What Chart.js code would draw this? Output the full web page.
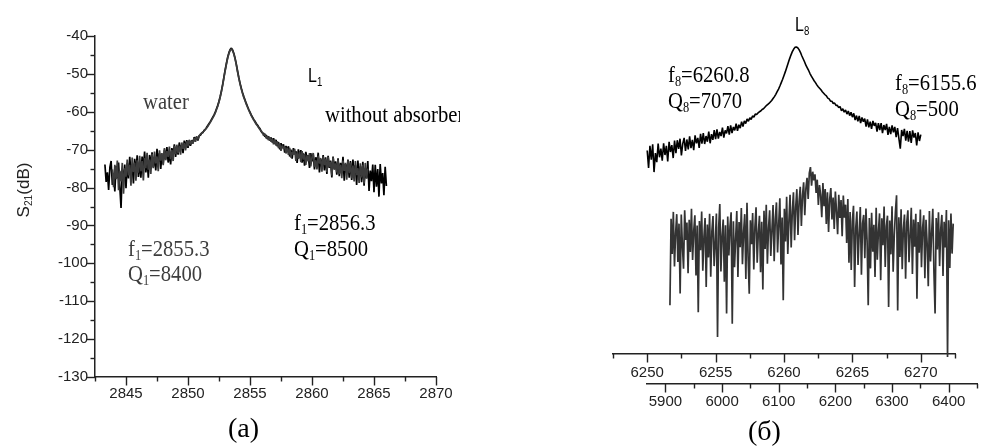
<!DOCTYPE html>
<html>
<head>
<meta charset="utf-8">
<title>S21 resonance curves</title>
<script src="https://cdn.jsdelivr.net/npm/chart.js@4.4.0/dist/chart.umd.min.js"></script>
<style>
  body { margin: 0; background: #fff; }
  #wrap { position: relative; width: 986px; height: 448px; overflow: hidden; }
  canvas { position: absolute; left: 0; top: 0; }
  .txt { position: absolute; white-space: nowrap; line-height: 1; transform-origin: 0 0; }
  .serif { font-family: "Liberation Serif", "Times New Roman", serif; font-size: 24px; transform: scaleX(0.86); }
  .sans { font-family: "Liberation Sans", Arial, sans-serif; font-size: 20px; transform: scaleX(0.8); }
  .cap { font-family: "Liberation Serif", "Times New Roman", serif; font-size: 28px; }
  .grey { color: #3d3d3d; }
  sub { font-size: 0.6em; vertical-align: -0.3em; line-height: 0; }
  #ytitle { position: absolute; left: -26px; top: 181px; width: 100px; height: 18px; line-height: 18px;
            text-align: center; font-family: "Liberation Sans", Arial, sans-serif; font-size: 17px; color: #222;
            transform: rotate(-90deg); }
  #clip { position: absolute; left: 325px; top: 100px; width: 135px; height: 30px; overflow: hidden; }
</style>
</head>
<body>
<div id="wrap">
  <canvas id="chartA" width="986" height="448"></canvas>
  <canvas id="chartB1" width="986" height="448"></canvas>
  <canvas id="chartB2" width="986" height="448"></canvas>

  <div id="ytitle">S<sub>21</sub>(dB)</div>
  <div class="txt serif grey" style="left:143px;top:89px">water</div>
  <div class="txt sans" style="left:308px;top:65px">L<sub>1</sub></div>
  <div id="clip"><div class="txt serif" style="left:0;top:2px">without absorber</div></div>
  <div class="txt serif" style="left:294px;top:210px">f<sub>1</sub>=2856.3</div>
  <div class="txt serif" style="left:294px;top:236px">Q<sub>1</sub>=8500</div>
  <div class="txt serif grey" style="left:128px;top:236px">f<sub>1</sub>=2855.3</div>
  <div class="txt serif grey" style="left:128px;top:261px">Q<sub>1</sub>=8400</div>

  <div class="txt sans" style="left:795px;top:14px">L<sub>8</sub></div>
  <div class="txt serif" style="left:668px;top:62px">f<sub>8</sub>=6260.8</div>
  <div class="txt serif" style="left:668px;top:88px">Q<sub>8</sub>=7070</div>
  <div class="txt serif" style="left:895px;top:70px">f<sub>8</sub>=6155.6</div>
  <div class="txt serif" style="left:895px;top:96px">Q<sub>8</sub>=500</div>

  <div class="txt cap" style="left:228px;top:414px">(a)</div>
  <div class="txt cap" style="left:748px;top:417px">(б)</div>
</div>

<script>
// L1 mode, 0.1 MHz per sweep point
const sweepStartNoAbs = 2843.3;
const sweepStartWater = 2843.9;
const sweepStepA = 0.1;

const dbNoAbsorber = [
  -73.9, -78.5, -76.0, -80.6, -74.7, -73.0, -79.3, -76.4, -81.0, -74.3,
  -77.6, -73.4, -79.7, -85.4, -75.1, -78.1, -73.9, -80.2,
  -73.5, -77.6, -71.9, -75.9, -73.9, -78.9, -72.4, -76.3, -71.5, -77.2,
  -73.7, -77.4, -71.8, -74.9, -70.5, -76.0, -72.5, -77.4, -71.4, -74.0,
  -70.7, -74.6, -72.0, -75.5, -69.8, -73.3, -70.9, -75.1, -71.4, -73.7,
  -70.0, -72.6, -69.3, -73.4, -71.0, -73.9, -69.6, -71.4, -68.6, -71.9,
  -69.1, -71.3, -68.1, -70.0, -68.8, -70.9, -67.6, -69.6, -67.5, -69.5,
  -67.6, -69.0, -67.5, -68.3, -66.7, -67.5, -66.5, -67.6,
  -66.3, -66.2, -65.6, -65.5, -64.9, -64.7, -64.1, -63.6, -63.1, -62.6, -62.0,
  -61.4, -60.8, -60.1, -59.2, -58.3, -57.2, -55.9, -54.4, -52.7, -50.8,
  -48.9, -47.2, -45.6, -44.4, -43.6, -43.2, -43.7, -44.6, -45.9, -47.5,
  -49.3, -51.0, -52.5, -53.8, -55.0, -56.0, -56.9, -57.8, -58.6, -59.4,
  -60.1, -60.8, -61.4, -62.0, -62.5, -63.1, -63.5, -64.0, -64.4, -65.2,
  -65.6,
  -65.7, -66.6, -66.1, -67.2, -66.5, -67.6, -66.8, -68.1, -67.0, -68.5,
  -67.4, -69.1, -68.0, -69.9, -68.3, -69.4, -68.6, -70.8, -69.0, -70.3,
  -69.1, -71.8, -70.0, -72.4, -69.6, -71.2, -70.4, -73.5, -69.9, -72.0,
  -70.1, -73.4, -71.0, -74.2, -70.6, -72.3, -71.5, -74.8, -70.9, -73.1,
  -71.3, -75.2, -72.0, -73.9, -70.8, -76.0, -72.5, -74.6, -71.4, -75.5,
  -72.0, -76.4, -71.6, -74.8, -72.9, -77.3, -71.8, -75.0, -73.1, -76.6,
  -72.3, -77.0, -73.5, -75.8, -71.9, -78.2, -73.8, -76.1, -72.6, -77.4,
  -73.0, -78.0, -72.6, -76.5, -74.1, -79.3, -72.9, -77.2, -74.4, -78.6,
  -73.2, -79.5, -74.8, -77.6, -73.0, -80.9, -75.5, -78.3, -73.9, -81.2,
  -74.0, -79.8, -75.1, -82.4, -73.8, -78.9, -76.2, -82.0, -74.5, -79.6
];

const dbWater = [
  -75.2, -79.9, -74.0, -77.8, -72.9, -80.7, -75.6, -78.4, -73.5, -81.6,
  -74.9, -77.1,
  -72.6, -76.8, -74.0, -79.5, -72.1, -75.9, -73.4, -78.2, -72.8, -76.1,
  -71.6, -75.7, -73.0, -78.1, -72.2, -74.9, -70.8, -75.3, -72.6, -76.4,
  -71.1, -74.9, -70.5, -73.6, -71.8, -75.7, -70.2, -72.9, -70.9, -74.1,
  -69.6, -72.8, -70.4, -71.9, -69.2, -72.5, -70.1, -73.0, -69.0, -71.2,
  -68.7, -70.9, -69.0, -71.3, -68.1, -69.8, -68.3, -70.2, -67.8, -69.1,
  -67.4, -68.6, -67.6, -68.4, -66.9, -67.9, -66.6, -67.3,
  -66.4, -65.9, -65.7, -65.3, -65.1, -64.6, -64.3, -63.8, -63.3, -62.8, -62.2,
  -61.6, -61.0, -60.3, -59.4, -58.5, -57.4, -56.1, -54.6, -52.9, -51.0,
  -49.1, -47.4, -45.8, -44.6, -43.8, -43.4, -43.9, -44.8, -46.1, -47.7,
  -49.5, -51.2, -52.7, -54.0, -55.2, -56.2, -57.1, -58.0, -58.8, -59.6,
  -60.3, -61.0, -61.6, -62.2, -62.7, -63.3, -63.7, -64.2, -64.7, -65.0,
  -65.5,
  -66.3, -65.8, -67.0, -66.4, -67.5, -66.7, -67.9, -67.1, -68.6, -67.4,
  -68.9, -67.8, -69.6, -68.4, -70.3, -68.9, -69.7, -69.2, -71.0, -69.5,
  -71.4, -69.5, -72.1, -70.6, -71.3, -69.8, -73.0, -70.9, -72.4, -70.6,
  -73.3, -70.4, -72.6, -71.2, -74.0, -71.5, -73.1, -70.9, -74.4, -72.0,
  -70.9, -74.5, -72.8, -75.2, -71.6, -73.7, -72.2, -75.8, -71.8, -74.1,
  -72.4, -75.9, -71.9, -74.6, -73.2, -76.8, -72.0, -75.3, -73.6, -76.0,
  -72.6, -76.4, -74.0, -77.5, -72.9, -75.6, -73.5, -77.9, -72.8, -76.2,
  -73.4, -77.6, -74.2, -78.4, -73.0, -76.7, -74.9, -78.8, -73.6, -77.3,
  -74.0, -78.9, -73.5, -77.6, -75.0
];

// L8 mode, high-Q trace (upper frequency axis)
const sweepStartHighQ = 6250.0;
const sweepStepHighQ = 0.1;
const dbHighQ = [
  -70.2, -74.8, -69.0, -72.6, -68.6, -75.9, -70.9, -73.3, -68.4, -72.0, -69.7,
  -72.9, -68.3, -71.4, -69.0, -73.1, -67.9, -70.6, -68.8, -72.2, -67.6,
  -70.9, -67.5, -69.8, -67.1, -71.5, -68.4, -66.9, -70.3, -67.3, -69.9,
  -66.5, -69.6, -67.4, -70.1, -66.2, -68.3, -66.9, -69.5, -65.8, -68.4,
  -65.6, -68.5, -66.4, -67.9, -65.2, -68.3, -65.9, -67.4, -64.8, -67.2,
  -64.6, -67.1, -65.3, -66.4, -64.2, -66.8, -64.9, -65.7, -63.8, -66.0,
  -63.6, -65.6, -64.0, -64.9, -63.1, -65.0, -63.4, -64.3, -62.6, -63.9,
  -62.4, -63.1, -61.9, -62.5, -61.6, -62.0, -61.1, -61.4, -60.6, -60.7,
  -60.3, -60.0, -59.8, -59.4, -59.2, -58.8, -58.4, -58.1, -57.8, -57.4,
  -57.0, -56.5, -56.0, -55.4, -54.7, -54.0, -53.2, -52.3, -51.4, -50.4,
  -49.4, -48.3, -47.2, -46.1, -45.1, -44.2, -43.5, -43.0, -42.9, -43.1,
  -43.6, -44.3, -45.2, -46.0, -46.8, -47.7, -48.4, -49.1, -49.9, -50.6,
  -51.2, -51.8, -52.3, -52.9, -53.4, -53.8, -54.2, -54.7, -55.1, -55.5,
  -55.8, -56.4, -56.6, -57.2, -57.2, -57.8, -57.7, -58.3, -58.3, -58.9,
  -58.6, -59.7, -59.2, -60.1, -59.5, -60.6, -59.8, -61.0, -60.1, -61.4,
  -60.4, -62.2, -61.0, -62.5, -61.1, -63.0, -61.5, -62.6, -61.8, -63.9,
  -62.0, -64.1, -62.6, -64.5, -62.4, -63.7, -62.9, -65.2, -63.0, -64.8,
  -63.0, -65.6, -63.5, -64.8, -63.2, -66.1, -64.0, -65.9, -63.6, -65.4,
  -64.0, -66.7, -64.3, -67.1, -69.7, -64.8, -66.4, -64.5, -67.6, -65.0,
  -67.9, -65.1, -68.2, -64.9, -66.8, -65.6, -68.9, -65.4, -67.7, -66.0
];

// L8 mode, low-Q trace (lower frequency axis)
const sweepStartLowQ = 5908;
const sweepStepLowQ = 2;
const dbLowQ = [
  -111.0, -88.2, -97.5, -86.4, -100.8, -92.1, -87.0, -99.6, -89.5, -107.9,
  -87.1, -95.3, -101.4, -86.0, -93.8, -89.2, -102.6, -88.5, -97.0, -85.6,
  -99.1, -91.4, -87.3, -103.2, -90.0, -112.9, -88.8, -96.5, -86.3, -101.9,
  -93.0, -88.0, -106.2, -89.7, -98.4, -86.9, -103.5, -91.6, -87.5, -100.7,
  -94.6, -86.8, -119.4, -90.5, -84.3, -102.1, -92.8, -88.4, -104.8, -89.9,
  -113.2, -87.6, -97.9, -90.3, -86.5, -115.9, -88.9, -101.0, -93.4, -86.2,
  -103.6, -89.1, -95.7, -85.4, -100.2, -91.8, -87.0, -104.1, -84.0, -98.5,
  -108.0, -88.6, -94.9, -86.7, -101.6, -90.4, -85.2, -99.8, -92.0, -87.4,
  -102.3, -89.0, -106.9, -86.1, -96.2, -84.5, -100.1, -90.7, -86.0, -98.0,
  -91.3, -84.6, -99.4, -88.2, -83.9, -97.1, -89.6, -82.8, -100.3, -87.9,
  -109.7, -85.6, -94.2, -82.4, -97.5, -88.8, -81.9, -95.8, -86.3, -81.2,
  -93.9, -85.1, -80.4, -92.5, -83.7, -79.8, -90.1, -82.0, -78.6, -87.3,
  -80.2, -77.4, -83.0, -76.2, -74.6, -79.5, -75.8, -78.1, -76.5, -81.4,
  -77.9, -84.6, -79.3, -82.0, -87.8, -78.8, -84.9, -80.4, -89.6, -81.2,
  -91.7, -83.0, -80.1, -88.4, -82.6, -90.9, -81.0, -86.2, -92.3, -81.9,
  -88.0, -83.3, -92.8, -82.1, -87.9, -84.5, -94.6, -83.0, -99.8, -86.4,
  -101.7, -88.9, -84.8, -106.2, -90.6, -86.3, -100.4, -92.0, -85.1, -103.0,
  -89.4, -87.2, -98.6, -85.5, -94.1, -111.0, -88.0, -101.3, -86.6, -96.9,
  -89.8, -103.6, -85.3, -99.0, -91.5, -86.8, -104.4, -88.1, -95.2, -85.0,
  -100.9, -90.2, -87.4, -111.5, -88.7, -97.6, -84.9, -102.2, -92.5, -86.4,
  -82.0, -112.4, -87.8, -98.3, -85.7, -101.5, -91.0, -87.1, -104.0, -89.3,
  -86.0, -99.7, -92.6, -85.3, -102.8, -88.4, -95.6, -86.9, -109.3, -89.1,
  -97.2, -85.8, -101.0, -90.6, -87.3, -103.9, -88.5, -94.7, -106.0, -86.2,
  -99.5, -91.8, -85.6, -102.4, -113.2, -88.0, -96.3, -86.5, -100.7, -90.9,
  -87.2, -103.3, -89.0, -95.8, -85.9, -124.7, -88.6, -101.2, -86.8, -97.4,
  -89.5
];

const axisColor = '#222';
const labelFont = { family: '"Liberation Sans", Arial, sans-serif', size: 15 };

function toPoints(start, step, values) {
  return values.map((v, i) => ({ x: +(start + i * step).toFixed(2), y: v }));
}

// tick marks drawn outward, labelled ones longer
const tickMarks = {
  id: 'tickMarks',
  afterDraw(chart) {
    const ctx = chart.ctx;
    ctx.save();
    ctx.strokeStyle = axisColor;
    ctx.lineWidth = 1.4;
    Object.values(chart.scales).forEach(s => {
      if (!s.options.display) return;
      s.ticks.forEach(t => {
        const len = t.label ? 8.5 : 4.5;
        const p = Math.round(s.getPixelForValue(t.value)) + 0.5;
        ctx.beginPath();
        if (s.isHorizontal()) {
          ctx.moveTo(p, s.top);
          ctx.lineTo(p, s.top + len);
        } else {
          ctx.moveTo(s.right, p);
          ctx.lineTo(s.right - len, p);
        }
        ctx.stroke();
      });
    });
    ctx.restore();
  }
};

function line(points, color, width) {
  return {
    data: points,
    borderColor: color,
    borderWidth: width,
    borderJoinStyle: 'bevel',
    pointRadius: 0,
    tension: 0,
    fill: false
  };
}

function xAxis(min, max, step, every, pad) {
  return {
    type: 'linear',
    position: 'bottom',
    min: min,
    max: max,
    grid: { display: false, drawTicks: false },
    border: { display: true, color: axisColor, width: 1.5 },
    ticks: {
      stepSize: step,
      includeBounds: false,
      autoSkip: false,
      maxRotation: 0,
      padding: pad,
      color: axisColor,
      font: labelFont,
      callback: v => (Math.abs(v % every) < 1e-6 ? String(v) : '')
    },
    afterFit: s => { s.height = 30; }
  };
}

function makeChart(id, datasets, scales, padding) {
  return new Chart(document.getElementById(id), {
    type: 'line',
    data: { datasets: datasets },
    options: {
      responsive: false,
      animation: false,
      events: [],
      layout: { padding: padding },
      plugins: { legend: { display: false }, tooltip: { enabled: false } },
      scales: scales
    },
    plugins: [tickMarks]
  });
}

// (a) L1 with and without water
makeChart('chartA', [
  line(toPoints(sweepStartWater, sweepStepA, dbWater), '#3c3c3c', 1.7),
  line(toPoints(sweepStartNoAbs, sweepStepA, dbNoAbsorber), '#000', 1.7)
], {
  x: xAxis(2842.5, 2870, 2.5, 5, 8),
  y: {
    type: 'linear',
    min: -130,
    max: -40,
    grid: { display: false, drawTicks: false },
    border: { display: true, color: axisColor, width: 1.5 },
    ticks: {
      stepSize: 5,
      autoSkip: false,
      padding: 7,
      color: axisColor,
      font: labelFont,
      callback: v => (v % 10 === 0 ? String(v) : '')
    },
    afterFit: s => { s.width = 60; }
  }
}, { left: 35, right: 550, top: 36, bottom: 41 });

// (б) high-Q L8 on the 6250-6270 axis
makeChart('chartB1', [
  line(toPoints(sweepStartHighQ, sweepStepHighQ, dbHighQ), '#000', 1.6)
], {
  x: xAxis(6247.5, 6272.5, 2.5, 5, 10),
  y: { type: 'linear', display: false, min: -123.9, max: -40 }
}, { left: 613, right: 31, top: 36, bottom: 64 });

// (б) low-Q L8 on the 5900-6400 axis
makeChart('chartB2', [
  line(toPoints(sweepStartLowQ, sweepStepLowQ, dbLowQ), '#333', 1.7)
], {
  x: xAxis(5867.5, 6450, 50, 100, 9),
  y: { type: 'linear', display: false, min: -131.8, max: -40 }
}, { left: 647, right: 8, top: 36, bottom: 34 });
</script>
</body>
</html>
